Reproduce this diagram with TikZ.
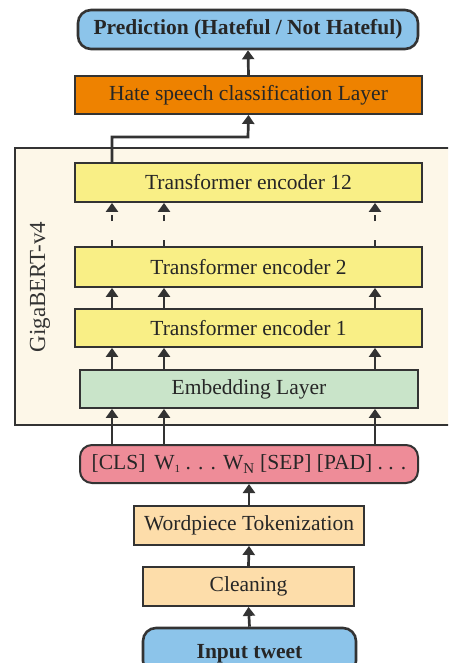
\documentclass[tikz,border=0pt]{standalone}
\usepackage{fontspec}
\setmainfont{Liberation Serif}
\usetikzlibrary{arrows.meta}
\definecolor{inkgray}{HTML}{333333}
\definecolor{predblue}{HTML}{8CC4EA}
\definecolor{clsorange}{HTML}{EE8200}
\definecolor{encyellow}{HTML}{F9EF86}
\definecolor{embgreen}{HTML}{C9E4C9}
\definecolor{bertcream}{HTML}{FDF7E8}
\definecolor{tokpink}{HTML}{EE8C98}
\definecolor{prepsand}{HTML}{FDDDAA}
\tikzset{
  txt/.style={font=\fontsize{21.5}{24}\selectfont, text=black!85},
  layer/.style={txt, draw=inkgray, line width=1.8pt, rectangle, inner sep=0pt},
  pill/.style={txt, draw=inkgray, line width=2.6pt, rectangle, rounded corners=13pt, inner sep=0pt},
  arr/.style={draw=inkgray, line width=2.7pt, -{Triangle[length=9pt,width=12pt]}},
  dasharr/.style={arr, dash pattern=on 6pt off 19pt}
}
\begin{document}
\begin{tikzpicture}[x=1pt,y=-1pt]
\useasboundingbox (0,0) rectangle (448,663);
\fill[white] (0,0) rectangle (448,663);
\clip (0,0) rectangle (448,663);

% GigaBERT container
\draw[draw=inkgray, line width=2.6pt, fill=bertcream] (15,148) rectangle (470,425);
\node[txt, rotate=90, font=\fontsize{23}{26}\selectfont, text=black!80] (bertlabel) at (40,287) {GigaBERT-v4};

% column positions for the token streams
\coordinate (c1) at (112,0);
\coordinate (c2) at (164,0);
\coordinate (c3) at (375,0);
\coordinate (bend) at (248,137);

% output side
\node[pill, fill=predblue, minimum width=340pt, minimum height=39pt, font=\bfseries\fontsize{21.5}{24}\selectfont] (pred) at (248,29.5) {Prediction (Hateful / Not Hateful)};
\node[layer, fill=clsorange, minimum width=347pt, minimum height=38pt] (cls) at (248.5,95) {Hate speech classification Layer};

% encoder stack
\node[layer, fill=encyellow, minimum width=347pt, minimum height=39pt] (te12) at (248.5,182.5) {Transformer encoder 12};
\node[layer, fill=encyellow, minimum width=347pt, minimum height=40pt] (te2) at (248.5,267) {Transformer encoder 2};
\node[layer, fill=encyellow, minimum width=347pt, minimum height=38pt] (te1) at (248.5,328) {Transformer encoder 1};
\node[layer, fill=embgreen, minimum width=338pt, minimum height=38pt] (emb) at (249,389) {Embedding Layer};

% input side
\node[pill, line width=2pt, rounded corners=12pt, fill=tokpink, minimum width=338pt, minimum height=38pt] (tok) at (249,464) {[CLS]\, W{\fontsize{11}{12}\selectfont\raisebox{-3pt}{1}} . . . W\textsubscript{N} [SEP] [PAD] . . .};
\node[layer, fill=prepsand, minimum width=230pt, minimum height=39pt] (wp) at (249,525.5) {Wordpiece Tokenization};
\node[layer, fill=prepsand, minimum width=211pt, minimum height=39pt] (clean) at (248.5,586.5) {Cleaning};
\node[pill, fill=predblue, minimum width=213pt, minimum height=46pt, font=\bfseries\fontsize{21.5}{24}\selectfont, text depth=0pt] (input) at (249.5,651) {Input tweet};

% preprocessing chain
\draw[arr] (input.north) -- (clean.south);
\draw[arr] (clean.north) -- (wp.south);
\draw[arr] (wp.north) -- (tok.south);

% token streams through the encoder
\foreach \c in {c1,c2,c3}{
  \draw[arr] (tok.north -| \c) -- (emb.south -| \c);
  \draw[arr] (emb.north -| \c) -- (te1.south -| \c);
  \draw[arr] (te1.north -| \c) -- (te2.south -| \c);
  \draw[dasharr] (te2.north -| \c) -- (te12.south -| \c);
}

% [CLS] output to the classifier
\draw[arr] (te12.north -| c1) |- (bend) -- (cls.south);
\draw[arr] (cls.north) -- (pred.south);
\end{tikzpicture}
\end{document}
